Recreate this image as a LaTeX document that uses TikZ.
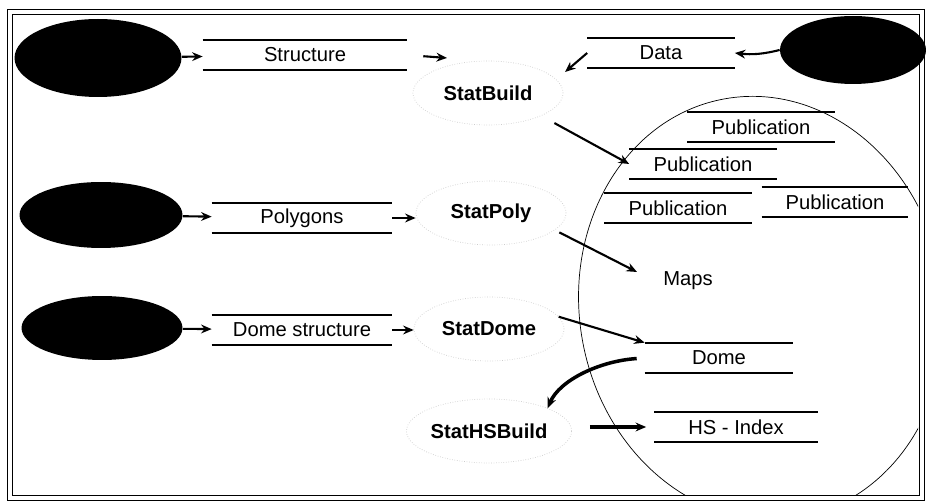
\documentclass[tikz,border=0pt]{standalone}
\usepackage{fontspec}
\setmainfont{Liberation Sans}
\usetikzlibrary{shapes.geometric,arrows.meta}

\begin{document}
\begin{tikzpicture}[x=0.02cm,y=-0.02cm,>={Stealth[length=6pt,width=5pt]},font=\fontsize{11.5}{13}\selectfont,
    extern/.style={ellipse,fill=black,inner sep=0pt},
    stat/.style={ellipse,draw=gray!40,densely dotted,minimum width=3cm,minimum height=1.28cm,
      inner sep=0pt,font=\fontsize{11.5}{13}\selectfont\bfseries},
    store/.style={inner sep=0pt,minimum width=#1,minimum height=0.6cm,
      append after command={(\tikzlastnode.north west) edge[line width=1pt] (\tikzlastnode.north east)
        (\tikzlastnode.south west) edge[line width=1pt] (\tikzlastnode.south east)}},
    flow/.style={->,line width=1.2pt}]
    \useasboundingbox (0,0) rectangle (926,502);
    \draw[double,double distance=2pt,line width=0.8pt] (10,12) rectangle (922,498);
    %===========================================
    \node[extern,minimum width=3.34cm,minimum height=1.56cm] (inStruct) at (98,58) {};
    \node[extern,minimum width=2.92cm,minimum height=1.36cm] (inData) at (853,50) {};
    \node[extern,minimum width=3.26cm,minimum height=1.32cm] (inPoly) at (101,215) {};
    \node[extern,minimum width=3.22cm,minimum height=1.28cm] (inDome) at (102,328) {};
    \node[store=4.08cm] (structure) at (305,55) {Structure};
    \node[store=2.94cm] (data) at (661,53) {Data};
    \node[store=3.6cm] (polygons) at (302,218) {Polygons};
    \node[store=3.6cm] (domestruct) at (302,330) {Dome structure};
    \node[stat] (statbuild) at (488,93) {StatBuild};
    \node[stat] (statpoly) at (491,213) {StatPoly};
    \node[stat] (statdome) at (489,329) {StatDome};
    \node[stat] (stathsbuild) at (489,431) {StatHSBuild};
    %===========================================
    \begin{scope}
        \clip (13,15) rectangle (918,496);
        \draw[rotate around={10:(762,308)}] (762,308) ellipse [x radius=3.65cm,y radius=4.25cm];
    \end{scope}
    \node[store=2.94cm] (pub1) at (761,127) {Publication};
    \node[store=2.94cm] (pub2) at (703,164) {Publication};
    \node[store=2.94cm] (pub3) at (678,208) {Publication};
    \node[store=2.92cm] (pub4) at (835,202) {Publication};
    \node (maps) at (688,281) {Maps};
    \node[store=2.96cm] (dome) at (719,358) {Dome};
    \node[store=3.26cm] (hsindex) at (736,427) {HS - Index};
    %===========================================
    \coordinate (sbIn) at (447,58);
    \coordinate (sbData) at (565,72);
    \coordinate (mapsIn) at (637,272);
    \draw[flow] (inStruct) -- (structure);
    \draw[flow,shorten <=0.32cm] (structure.east) -- (sbIn);
    \draw[flow] (inData.west) to[bend left=10] (data.east);
    \draw[flow] (data.west) -- (sbData);
    \draw[flow,shorten <=0.3cm] (statbuild.south east) -- (pub2.west);
    \draw[flow] (inPoly) -- (polygons);
    \draw[flow] (polygons.east) -- (polygons.east -| statpoly.west);
    \draw[flow,shorten <=0.1cm] (statpoly.-15) -- (mapsIn);
    \draw[flow] (inDome) -- (domestruct);
    \draw[flow] (domestruct.east) -- (domestruct.east -| statdome.west);
    \draw[flow] (statdome.10) -- (dome.north west);
    \draw[->,line width=2pt,shorten <=0.16cm] (dome.west) .. controls +(-45,3) and +(12,-28) .. (stathsbuild.north east);
    \draw[->,line width=1.8pt,shorten <=0.36cm,shorten >=0.16cm] (hsindex.west -| stathsbuild.east) -- (hsindex.west);
\end{tikzpicture}
\end{document}
